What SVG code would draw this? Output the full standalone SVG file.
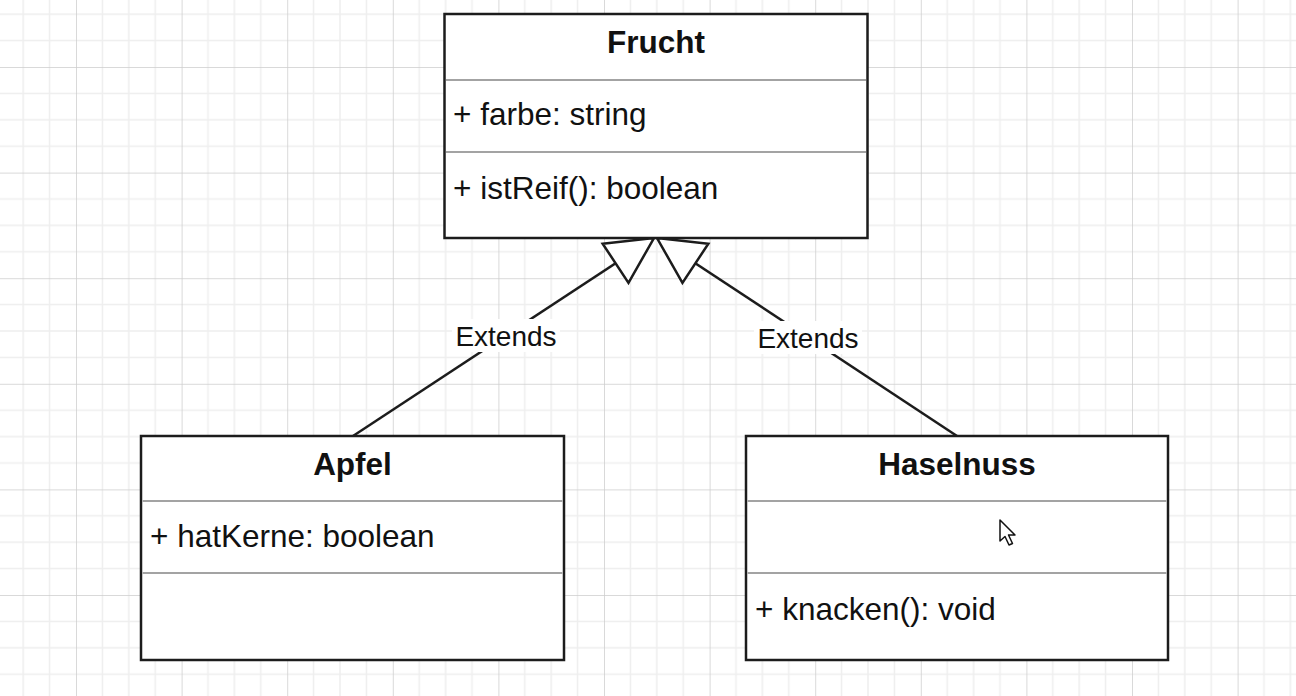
<svg xmlns="http://www.w3.org/2000/svg" width="1296" height="696" viewBox="0 0 1296 696">
  <style>
    .box { fill: #ffffff; stroke: #1c1c1c; stroke-width: 2.5; }
    .sep { stroke: #a3a3a3; stroke-width: 2; }
    .title { font-family: "Liberation Sans", Arial, Helvetica, sans-serif; font-size: 31.5px; font-weight: bold; fill: #111111; text-anchor: middle; }
    .member { font-family: "Liberation Sans", Arial, Helvetica, sans-serif; font-size: 31.5px; fill: #111111; }
    .edge { fill: none; stroke: #1c1c1c; stroke-width: 2.5; }
    .lblbg { fill: #ffffff; }
    .lbl { font-family: "Liberation Sans", Arial, Helvetica, sans-serif; font-size: 28px; fill: #111111; text-anchor: middle; }
  </style>
  <defs>
    <pattern id="grid" patternUnits="userSpaceOnUse" x="-29.6" y="-38.6" width="105.6" height="105.6">
      <path d="M26.4 0V105.6M52.8 0V105.6M79.2 0V105.6M0 26.4H105.6M0 52.8H105.6M0 79.2H105.6" stroke="#eeeeee" stroke-width="1.5" fill="none"/>
      <path d="M0 0V105.6M0 0H105.6" stroke="#cdcdcd" stroke-width="1.5" fill="none"/>
    </pattern>
    <marker id="gen" markerUnits="userSpaceOnUse" viewBox="-2 -26 50 52" refX="46" refY="0" markerWidth="50" markerHeight="52" orient="auto">
      <path d="M0,-23.5 L46,0 L0,23.5 Z" fill="#ffffff" stroke="#1c1c1c" stroke-width="2.5" stroke-linejoin="miter"/>
    </marker>
  </defs>
  <rect width="1296" height="696" fill="#ffffff"/>
  <rect width="1296" height="696" fill="url(#grid)"/>

  <g id="connectors">
    <path class="edge" d="M353,436 L654,238" marker-end="url(#gen)"/>
    <path class="edge" d="M957,436 L657,238" marker-end="url(#gen)"/>
    <rect class="lblbg" x="452" y="319" width="108" height="33"/>
    <text class="lbl" x="506" y="346">Extends</text>
    <rect class="lblbg" x="754" y="321" width="108" height="33"/>
    <text class="lbl" x="808" y="348">Extends</text>
  </g>

  <g id="Frucht">
    <rect class="box" x="444.5" y="14" width="423" height="224"/>
    <line class="sep" x1="446" y1="80" x2="866" y2="80"/>
    <line class="sep" x1="446" y1="152" x2="866" y2="152"/>
    <text class="title" x="656" y="53">Frucht</text>
    <text class="member" x="453" y="125">+ farbe: string</text>
    <text class="member" x="453" y="199">+ istReif(): boolean</text>
  </g>

  <g id="Apfel">
    <rect class="box" x="141" y="436" width="423" height="224"/>
    <line class="sep" x1="142.5" y1="501" x2="562.5" y2="501"/>
    <line class="sep" x1="142.5" y1="573" x2="562.5" y2="573"/>
    <text class="title" x="352.5" y="475">Apfel</text>
    <text class="member" x="150" y="547">+ hatKerne: boolean</text>
  </g>

  <g id="Haselnuss">
    <rect class="box" x="746" y="436" width="422" height="224"/>
    <line class="sep" x1="747.5" y1="501" x2="1166.5" y2="501"/>
    <line class="sep" x1="747.5" y1="573" x2="1166.5" y2="573"/>
    <text class="title" x="957" y="475">Haselnuss</text>
    <text class="member" x="755" y="620">+ knacken(): void</text>
  </g>

  <path d="M1000,520 L1000,541 L1005,536.5 L1009,545 L1012.5,543.5 L1008.5,535 L1015,535 Z" fill="#ffffff" stroke="#111111" stroke-width="1.5" stroke-linejoin="round"/>
</svg>
